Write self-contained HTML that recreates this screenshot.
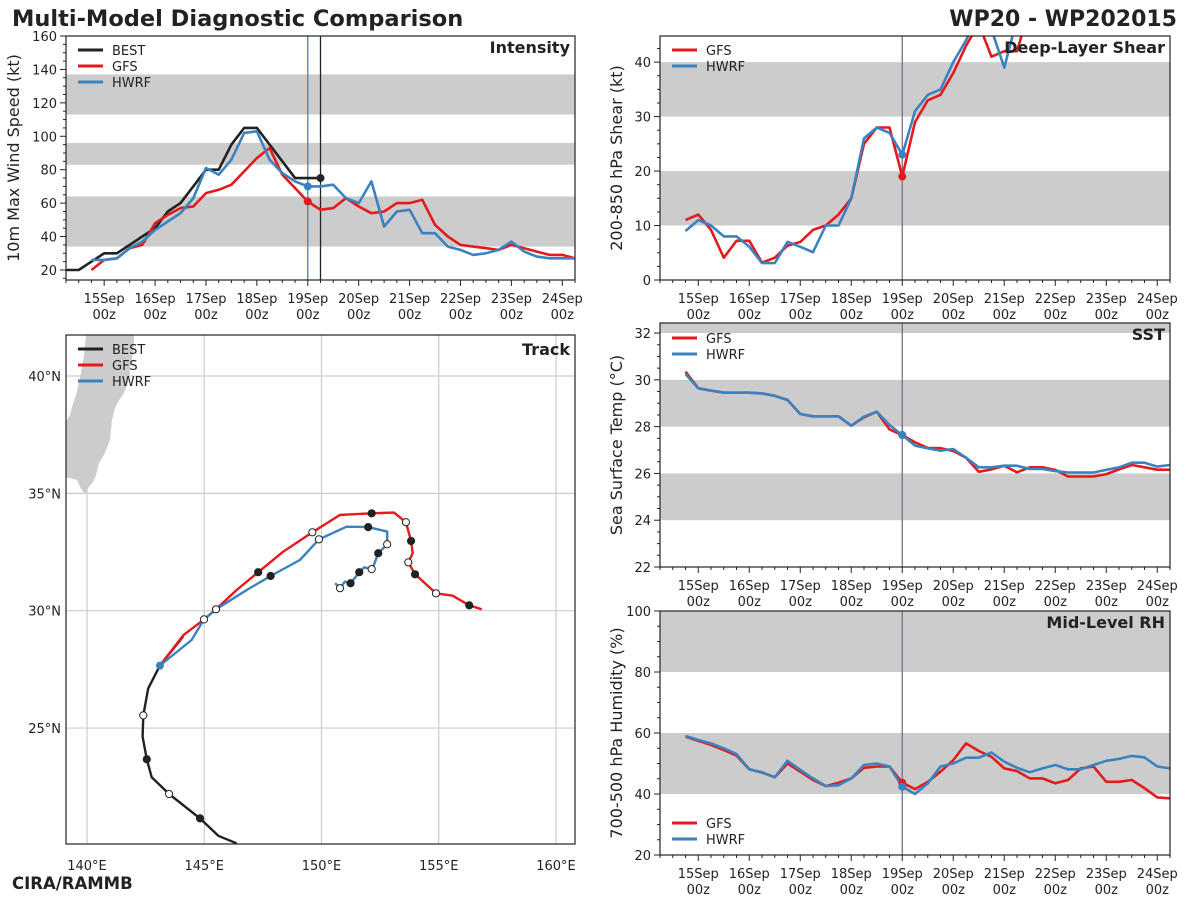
<!DOCTYPE html>
<html><head><meta charset="utf-8"><style>
html,body{margin:0;padding:0;background:#fff}
svg{display:block;font-family:"DejaVu Sans","Liberation Sans",sans-serif}
</style></head><body>
<svg id="root" width="1200" height="900" viewBox="0 0 1200 900" xmlns="http://www.w3.org/2000/svg">
<rect width="1200" height="900" fill="#fff"/>
<text x="12" y="26" font-size="22.5" font-weight="bold" fill="#222">Multi-Model Diagnostic Comparison</text>
<text x="1177" y="26" font-size="22" font-weight="bold" fill="#222" text-anchor="end">WP20 - WP202015</text>
<text x="12" y="889" font-size="16.5" font-weight="bold" fill="#222">CIRA/RAMMB</text>
<g id="layer"></g>
</svg>
<script>
// ---------- DATA ----------
const dayLabels = ["15Sep","16Sep","17Sep","18Sep","19Sep","20Sep","21Sep","22Sep","23Sep","24Sep"];
const bestStart = -0.75;
const modelStart = -0.25;
const initDay = 4.0;
const intBest = [20,20,25,30,30,35,40,45,55,60,70,80,80,95,105,105,95,85,75,75,75];
const intGfs = [20,26,27,33,35,48,53,57,58,66,68,71,79,87,93,77,69,61,56,57,63,58,54,55,60,60,62,47,40,35,34,33,32,35,33,31,29,29,27];
const intHwrf = [26,26,27,33,37,44,49,54,63,81,77,86,102,103,86,78,73,70,70,71,63,60,73,46,55,56,42,42,34,32,29,30,32,37,31,28,27,27,27];
const intBands = [[34,64],[83,96],[113,137]];
const intTicks = [20,40,60,80,100,120,140,160];
const shrGfs = [11,12,9.2,4.1,7.2,7.2,3.2,4.1,6.3,7,9.2,10,12,15,25,28,28,19,29,33,34,38,43,47,41,42,42,50,54,56,57,57,57,57,57,57,57,57,57];
const shrHwrf = [9,11,10,8,8,6.1,3.1,3.1,7,6.1,5.1,10,10,15,26,28,27,23,31,34,35,40,44,49,46,39,48,53,56,57,57,57,57,57,57,57,57,57,57];
const shrBands = [[10,20],[30,40]];
const shrTicks = [0,10,20,30,40];
const sstGfs = [30.35,29.64,29.54,29.45,29.45,29.45,29.42,29.32,29.14,28.54,28.44,28.44,28.44,28.04,28.4,28.64,27.88,27.64,27.33,27.09,27.08,26.96,26.67,26.07,26.17,26.33,26.05,26.26,26.26,26.15,25.87,25.87,25.87,25.97,26.17,26.36,26.26,26.16,26.16];
const sstHwrf = [30.25,29.64,29.54,29.45,29.45,29.45,29.42,29.32,29.14,28.54,28.44,28.44,28.44,28.04,28.43,28.64,28.07,27.64,27.19,27.07,26.97,27.04,26.67,26.26,26.26,26.33,26.33,26.19,26.19,26.1,26.04,26.04,26.04,26.15,26.26,26.46,26.46,26.29,26.36];
const sstBands = [[24,26],[28,30],[32,33]];
const sstTicks = [22,24,26,28,30,32];
const rhGfs = [58.8,57.4,56.1,54.4,52.6,48.1,47,45.5,50,47.3,44.6,42.6,43.7,45.1,48.6,49,49,43.7,41.6,44,47.3,51.1,56.6,54.1,52.2,48.4,47.5,45.1,45.1,43.5,44.6,48.4,49,44,44,44.6,41.9,38.9,38.6];
const rhHwrf = [59,57.7,56.6,55,53.1,48.1,47.1,45.5,50.9,47.9,45.1,42.6,42.9,45.1,49.5,50,49,42.4,40,43.5,49,50,51.9,51.9,53.6,50.6,48.6,47.1,48.4,49.5,48.1,48.1,49.5,50.9,51.5,52.5,52,49,48.4];
const rhBands = [[40,60],[80,100]];
const rhTicks = [20,40,60,80,100];
// track
const bestLon = [146.38,145.6,144.82,143.5,142.76,142.55,142.37,142.4,142.61,143.11,144.1];
const bestLat = [20.09,20.41,21.15,22.19,22.9,23.67,24.63,25.54,26.69,27.66,28.9];
const bestMkLon = [144.82,143.5,142.55,142.4];
const bestMkLat = [21.15,22.19,23.67,25.54];
const bestMkFill = [1,0,1,0];
const gfsLon = [143.11,144.11,144.96,145.5,146.38,147.3,148.37,149.61,150.79,152.14,153.09,153.6,153.82,153.89,153.7,153.99,154.88,155.59,156.3,156.83];
const gfsLat = [27.66,28.96,29.6,30.06,30.88,31.64,32.52,33.34,34.08,34.15,34.18,33.77,32.97,32.45,32.06,31.55,30.74,30.64,30.23,30.06];
const gfsMkLon = [145.5,147.3,149.61,152.14,153.6,153.82,153.7,153.99,154.88,156.3];
const gfsMkLat = [30.06,31.64,33.34,34.15,33.77,32.97,32.06,31.55,30.74,30.23];
const gfsMkFill = [0,1,0,1,0,1,0,1,0,1];
const hwrfLon = [143.11,144.46,144.99,145.5,146.81,147.83,149.08,149.89,151.07,151.99,152.8,152.8,152.42,152.25,152.14,151.82,151.61,151.24,151.0,150.79,150.58];
const hwrfLat = [27.66,28.75,29.63,30.06,30.88,31.48,32.16,33.04,33.58,33.56,33.37,32.83,32.45,32.0,31.77,31.85,31.64,31.17,31.24,30.96,31.17];
const hwrfMkLon = [144.99,147.83,149.89,151.99,152.8,152.42,152.14,151.61,151.24,150.79];
const hwrfMkLat = [29.63,31.48,33.04,33.56,32.83,32.45,31.77,31.64,31.17,30.96];
const hwrfMkFill = [0,1,0,1,0,1,0,1,1,0];
const lonTicks = [140,145,150,155,160];
const latTicks = [25,30,35,40];

// ---------- HELPERS ----------
const NS = "http://www.w3.org/2000/svg";
const layer = document.getElementById('layer');
const RED = "#e41a1c", BLUE = "#3a82c0", BLACK = "#222";
function mk(tag, attrs, name, parent) {
  const el = document.createElementNS(NS, tag);
  for (const k in attrs) el.setAttribute(k, attrs[k]);
  
  
  (parent || layer).appendChild(el);
  return el;
}
function txt(x, y, s, attrs, name, parent) {
  const t = mk('text', Object.assign({x: x, y: y, 'font-size': 13, fill: '#222'}, attrs), name, parent);
  t.textContent = s;
  return t;
}
let clipId = 0;
function timePanel(o) {
  const {L, T, R, B, vmin, vmax, key} = o;
  const g = mk('g', {}, key + '-panel');
  const X = d => L + (d + 0.75) * (R - L) / 10;
  const Y = v => B - (v - vmin) * (B - T) / (vmax - vmin);
  const cid = 'clip' + (clipId++);
  const cp = mk('clipPath', {id: cid}, key + '-clip', g);
  mk('rect', {x: L, y: T, width: R - L, height: B - T}, key + '-clip-rect', cp);
  const inner = mk('g', {'clip-path': 'url(#' + cid + ')'}, key + '-plot-area', g);
  o.bands.forEach((b, i) => {
    mk('rect', {x: L, y: Y(b[1]), width: R - L, height: Y(b[0]) - Y(b[1]), fill: '#cccccc'}, key + '-band-' + i, inner);
  });
  (o.vlines || []).forEach((v, i) => {
    mk('line', {x1: X(v.d), x2: X(v.d), y1: T, y2: B, stroke: v.c, 'stroke-width': 1.3}, key + '-init-line-' + i, inner);
  });
  o.series.forEach(s => {
    const pts = s.vals.map((v, i) => X(s.start + i * 0.25).toFixed(1) + ',' + Y(v).toFixed(1)).join(' ');
    mk('polyline', {points: pts, fill: 'none', stroke: s.c, 'stroke-width': 2.6, 'stroke-linejoin': 'round'}, key + '-line-' + s.n, inner);
  });
  o.series.forEach(s => {
    if (s.dot === undefined) return;
    const i = Math.round((s.dot - s.start) / 0.25);
    mk('circle', {cx: X(s.dot), cy: Y(s.vals[i]), r: 4, fill: s.c}, key + '-dot-' + s.n, inner);
  });
  mk('rect', {x: L, y: T, width: R - L, height: B - T, fill: 'none', stroke: '#222', 'stroke-width': 1.2}, key + '-frame', g);
  for (let k = 0; k <= 40; k++) {
    const d = -0.75 + k * 0.25;
    const major = Math.abs(d - Math.round(d)) < 1e-6;
    mk('line', {x1: X(d), x2: X(d), y1: B, y2: B + (major ? 6 : 3), stroke: '#222', 'stroke-width': 1}, key + '-x-tick', g);
  }
  dayLabels.forEach((lab, i) => {
    txt(X(i), B + 23, lab, {'text-anchor': 'middle'}, key + '-x-label-day', g);
    txt(X(i), B + 39, '00z', {'text-anchor': 'middle'}, key + '-x-label-hour', g);
  });
  for (let v = Math.ceil(vmin / o.minor) * o.minor; v <= vmax + 1e-6; v += o.minor) {
    const major = o.ticks.some(t => Math.abs(t - v) < 1e-6);
    mk('line', {x1: L, x2: L - (major ? 6 : 3), y1: Y(v), y2: Y(v), stroke: '#222', 'stroke-width': 1}, key + '-y-tick', g);
  }
  o.ticks.forEach(t => txt(L - 9, Y(t) + 5, String(t), {'text-anchor': 'end'}, key + '-y-label', g));
  txt(0, 0, o.ylabel, {'font-size': 16, 'text-anchor': 'middle', transform: 'translate(' + (o.ylx) + ',' + ((T + B) / 2) + ') rotate(-90)'}, key + '-y-axis-title', g);
  txt(R - 5, T + 17, o.title, {'font-size': 16, 'font-weight': 'bold', 'text-anchor': 'end'}, key + '-panel-title', g);
  o.series.forEach((s, i) => {
    const ly = o.legY + i * 16;
    mk('line', {x1: L + 12, x2: L + 37, y1: ly, y2: ly, stroke: s.c, 'stroke-width': 3}, key + '-legend-swatch-' + s.n, g);
    txt(L + 46, ly + 5, s.n, {}, key + '-legend-entry-' + s.n, g);
  });
}

timePanel({key: 'intensity', L: 66, T: 36, R: 575, B: 280, vmin: 14, vmax: 160, bands: intBands, ticks: intTicks, minor: 5,
  ylabel: '10m Max Wind Speed (kt)', ylx: 19, title: 'Intensity', legY: 50,
  vlines: [{d: initDay, c: BLUE}, {d: 4.25, c: BLACK}],
  series: [{n: 'BEST', vals: intBest, start: bestStart, c: BLACK, dot: 4.25},
           {n: 'GFS', vals: intGfs, start: modelStart, c: RED, dot: initDay},
           {n: 'HWRF', vals: intHwrf, start: modelStart, c: BLUE, dot: initDay}]});
timePanel({key: 'shear', L: 660, T: 36, R: 1170, B: 280, vmin: 0, vmax: 44.8, bands: shrBands, ticks: shrTicks, minor: 2.5,
  ylabel: '200-850 hPa Shear (kt)', ylx: 622, title: 'Deep-Layer Shear', legY: 50,
  vlines: [{d: initDay, c: '#7a6a8e'}],
  series: [{n: 'GFS', vals: shrGfs, start: modelStart, c: RED, dot: initDay},
           {n: 'HWRF', vals: shrHwrf, start: modelStart, c: BLUE, dot: initDay}]});
timePanel({key: 'sst', L: 660, T: 323, R: 1170, B: 567, vmin: 22, vmax: 32.43, bands: sstBands, ticks: sstTicks, minor: 0.5,
  ylabel: 'Sea Surface Temp (°C)', ylx: 622, title: 'SST', legY: 338,
  vlines: [{d: initDay, c: '#7a6a8e'}],
  series: [{n: 'GFS', vals: sstGfs, start: modelStart, c: RED, dot: initDay},
           {n: 'HWRF', vals: sstHwrf, start: modelStart, c: BLUE, dot: initDay}]});
timePanel({key: 'rh', L: 660, T: 611, R: 1170, B: 855, vmin: 20, vmax: 100, bands: rhBands, ticks: rhTicks, minor: 5,
  ylabel: '700-500 hPa Humidity (%)', ylx: 622, title: 'Mid-Level RH', legY: 823,
  vlines: [{d: initDay, c: '#7a6a8e'}],
  series: [{n: 'GFS', vals: rhGfs, start: modelStart, c: RED, dot: initDay},
           {n: 'HWRF', vals: rhHwrf, start: modelStart, c: BLUE, dot: initDay}]});

// ---------- TRACK ----------
(function () {
  const L = 66, T = 335, R = 575, B = 844;
  const g = mk('g', {}, 'track-panel');
  const X = l => 87 + (l - 140) * 23.45;
  const Y = la => 376 - (la - 40) * 23.47;
  const cp = mk('clipPath', {id: 'trackclip'}, 'track-clip', g);
  mk('rect', {x: L, y: T, width: R - L, height: B - T}, 'track-clip-rect', cp);
  const inner = mk('g', {'clip-path': 'url(#trackclip)'}, 'track-map-area', g);
  mk('polygon', {points: '86,335 134,335 134,350 131,362 129,380 124,393 118,402 115,408 112,420 110,440 104,455 99,463 96,475 93,482 88,488 85,495 80,487 77,480 70,478 66,478 66,422 70,415 72,407 76,395 80,378 84,355', fill: '#cccccc'}, 'japan-land', inner);
  lonTicks.forEach(l => mk('line', {x1: X(l), x2: X(l), y1: T, y2: B, stroke: '#cccccc', 'stroke-width': 1.2}, 'track-grid-lon', inner));
  latTicks.forEach(la => mk('line', {x1: L, x2: R, y1: Y(la), y2: Y(la), stroke: '#cccccc', 'stroke-width': 1.2}, 'track-grid-lat', inner));
  const tracks = [['BEST', bestLon, bestLat, BLACK, bestMkLon, bestMkLat, bestMkFill],
                  ['GFS', gfsLon, gfsLat, RED, gfsMkLon, gfsMkLat, gfsMkFill],
                  ['HWRF', hwrfLon, hwrfLat, BLUE, hwrfMkLon, hwrfMkLat, hwrfMkFill]];
  tracks.forEach(t => {
    const pts = t[1].map((l, i) => X(l).toFixed(1) + ',' + Y(t[2][i]).toFixed(1)).join(' ');
    mk('polyline', {points: pts, fill: 'none', stroke: t[3], 'stroke-width': 2.4, 'stroke-linejoin': 'round'}, 'track-line-' + t[0], inner);
  });
  tracks.forEach(t => {
    t[4].forEach((l, i) => {
      mk('circle', {cx: X(l), cy: Y(t[5][i]), r: 3.6, fill: t[6][i] ? '#222' : '#fff', stroke: '#222', 'stroke-width': 1}, 'track-marker-' + t[0], inner);
    });
  });
  mk('circle', {cx: X(gfsLon[0]), cy: Y(gfsLat[0]), r: 4, fill: BLUE}, 'track-init-position', inner);
  mk('rect', {x: L, y: T, width: R - L, height: B - T, fill: 'none', stroke: '#222', 'stroke-width': 1.2}, 'track-frame', g);
  lonTicks.forEach(l => txt(X(l), B + 26, l + '°E', {'text-anchor': 'middle'}, 'track-lon-label', g));
  latTicks.forEach(la => txt(L - 5, Y(la) + 5, la + '°N', {'text-anchor': 'end'}, 'track-lat-label', g));
  txt(R - 5, T + 20, 'Track', {'font-size': 16, 'font-weight': 'bold', 'text-anchor': 'end'}, 'track-panel-title', g);
  tracks.forEach((t, i) => {
    const ly = 349 + i * 16;
    mk('line', {x1: 78, x2: 103, y1: ly, y2: ly, stroke: t[3], 'stroke-width': 3}, 'track-legend-swatch-' + t[0], g);
    txt(112, ly + 5, t[0], {}, 'track-legend-entry-' + t[0], g);
  });
})();
</script>
</body></html>
